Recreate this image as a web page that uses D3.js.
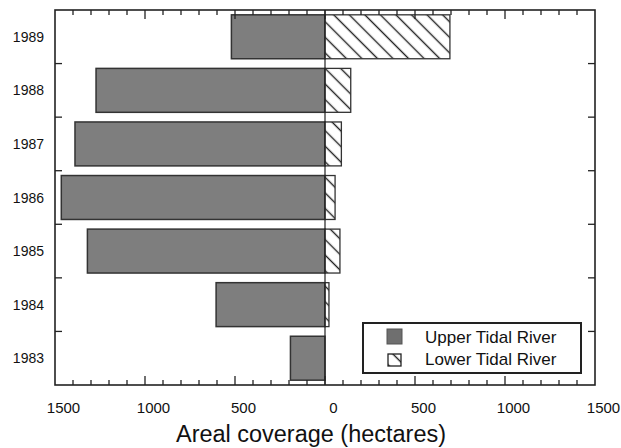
<!DOCTYPE html>
<html>
<head>
<meta charset="utf-8">
<script src="https://cdn.jsdelivr.net/npm/d3@7"></script>
<style>
  html, body { margin: 0; padding: 0; background: #fff; }
  svg { display: block; }
  text { font-family: "Liberation Sans", Arial, Helvetica, sans-serif; fill: #111; }
</style>
</head>
<body>
<svg id="chart" width="621" height="448"></svg>
<script>
// Areal coverage per year (hectares)
const years = [1983, 1984, 1985, 1986, 1987, 1988, 1989];
const upperTidal = [192, 605, 1320, 1465, 1389, 1272, 520];
const lowerTidal = [0, 22, 83, 56, 91, 143, 694];
const xTickLabels = [-1500, -1000, -500, 0, 500, 1000, 1500];
const seriesNames = ["Upper Tidal River", "Lower Tidal River"];

const W = 621, H = 448;
const m = { left: 55, right: 26, top: 10, bottom: 63 };
const svg = d3.select("#chart");

svg.append("rect").attr("width", W).attr("height", H).attr("fill", "#fff");

// diagonal hatching running from upper left to lower right
const defs = svg.append("defs");
const hatch = defs.append("pattern")
  .attr("id", "hatch")
  .attr("patternUnits", "userSpaceOnUse")
  .attr("width", 11).attr("height", 11)
  .attr("patternTransform", "rotate(45)");
hatch.append("rect").attr("width", 11).attr("height", 11).attr("fill", "#fff");
hatch.append("line")
  .attr("x1", 0).attr("y1", 5.5).attr("x2", 11).attr("y2", 5.5)
  .attr("stroke", "#222").attr("stroke-width", 1.4);

const x = d3.scaleLinear().domain([-1500, 1500]).range([m.left, W - m.right]);
const y = d3.scaleBand()
  .domain(years.slice().reverse())
  .range([m.top, H - m.bottom])
  .paddingInner(0.18)
  .paddingOuter(0.09);

const yTop = m.top, yBottom = H - m.bottom;
const plot = svg.append("g");

// Upper tidal river: bars extend to the left of zero
plot.selectAll("rect.upper")
  .data(years.map((yr, i) => ({ yr, v: upperTidal[i] })))
  .join("rect")
  .attr("class", "upper")
  .attr("x", d => x(-d.v))
  .attr("y", d => y(d.yr))
  .attr("width", d => x(0) - x(-d.v))
  .attr("height", y.bandwidth())
  .attr("fill", "#7e7e7e")
  .attr("stroke", "#333")
  .attr("stroke-width", 1.5);

// Lower tidal river: hatched bars to the right of zero
plot.selectAll("rect.lower")
  .data(years.map((yr, i) => ({ yr, v: lowerTidal[i] })).filter(d => d.v > 0))
  .join("rect")
  .attr("class", "lower")
  .attr("x", x(0))
  .attr("y", d => y(d.yr))
  .attr("width", d => x(d.v) - x(0))
  .attr("height", y.bandwidth())
  .attr("fill", "url(#hatch)")
  .attr("stroke", "#333")
  .attr("stroke-width", 1.3);

// zero line
plot.append("line")
  .attr("x1", x(0)).attr("x2", x(0))
  .attr("y1", yTop).attr("y2", yBottom)
  .attr("stroke", "#222").attr("stroke-width", 1.2);

// frame
svg.append("rect")
  .attr("x", x(-1500)).attr("y", yTop)
  .attr("width", x(1500) - x(-1500)).attr("height", yBottom - yTop)
  .attr("fill", "none").attr("stroke", "#222").attr("stroke-width", 1.6);

// inward ticks on top and bottom every 100 ha, longer at multiples of 500
const hTicks = d3.range(-1400, 1500, 100);
const tickLen = v => (v % 500 === 0 ? 9 : 5);
const tg = svg.append("g").attr("stroke", "#222").attr("stroke-width", 1.3);
tg.selectAll("line.t").data(hTicks).join("line").attr("class", "t")
  .attr("x1", d => x(d)).attr("x2", d => x(d))
  .attr("y1", yTop).attr("y2", d => yTop + tickLen(d));
tg.selectAll("line.b").data(hTicks).join("line").attr("class", "b")
  .attr("x1", d => x(d)).attr("x2", d => x(d))
  .attr("y1", yBottom).attr("y2", d => yBottom - tickLen(d));

// inward ticks on left and right between year bands
const step = y.step();
const bounds = years.slice().reverse().slice(1).map(yr => y(yr) - step * y.paddingInner() / 2);
tg.selectAll("line.l").data(bounds).join("line").attr("class", "l")
  .attr("x1", x(-1500)).attr("x2", x(-1500) + 7)
  .attr("y1", d => d).attr("y2", d => d);
tg.selectAll("line.r").data(bounds).join("line").attr("class", "r")
  .attr("x1", x(1500)).attr("x2", x(1500) - 7)
  .attr("y1", d => d).attr("y2", d => d);

// year labels
svg.append("g").selectAll("text").data(years).join("text")
  .attr("x", 44)
  .attr("y", d => y(d) + y.bandwidth() / 2)
  .attr("dy", "0.36em")
  .attr("text-anchor", "end")
  .attr("font-size", 14)
  .text(d => d);

// x-axis labels (absolute hectares on both sides)
const xAxis = d3.axisBottom(x)
  .tickValues(xTickLabels)
  .tickSize(0)
  .tickPadding(0)
  .tickFormat(d => Math.abs(d));
const xg = svg.append("g").attr("transform", `translate(0,${yBottom + 17})`).call(xAxis);
xg.select(".domain").remove();
xg.selectAll("text")
  .attr("font-size", 15)
  .attr("font-family", "Liberation Sans, Arial, sans-serif")
  .attr("fill", "#111")
  .attr("dx", 8);

// axis title
svg.append("text")
  .attr("x", 311).attr("y", 442)
  .attr("text-anchor", "middle")
  .attr("font-size", 23)
  .attr("textLength", 270)
  .attr("lengthAdjust", "spacingAndGlyphs")
  .text("Areal coverage (hectares)");

// legend
const lg = svg.append("g");
lg.append("rect")
  .attr("x", 363).attr("y", 323).attr("width", 218).attr("height", 50)
  .attr("fill", "#fff").attr("stroke", "#222").attr("stroke-width", 2);
lg.append("rect")
  .attr("x", 387).attr("y", 329).attr("width", 15).attr("height", 15)
  .attr("fill", "#6f6f6f").attr("stroke", "#555").attr("stroke-width", 1);
lg.append("rect")
  .attr("x", 388).attr("y", 354).attr("width", 13).attr("height", 12)
  .attr("fill", "url(#hatch)").attr("stroke", "#222").attr("stroke-width", 1.3);
lg.selectAll("text").data(seriesNames).join("text")
  .attr("x", 425)
  .attr("y", (d, i) => 343 + i * 22)
  .attr("font-size", 17)
  .text(d => d);
</script>
</body>
</html>
